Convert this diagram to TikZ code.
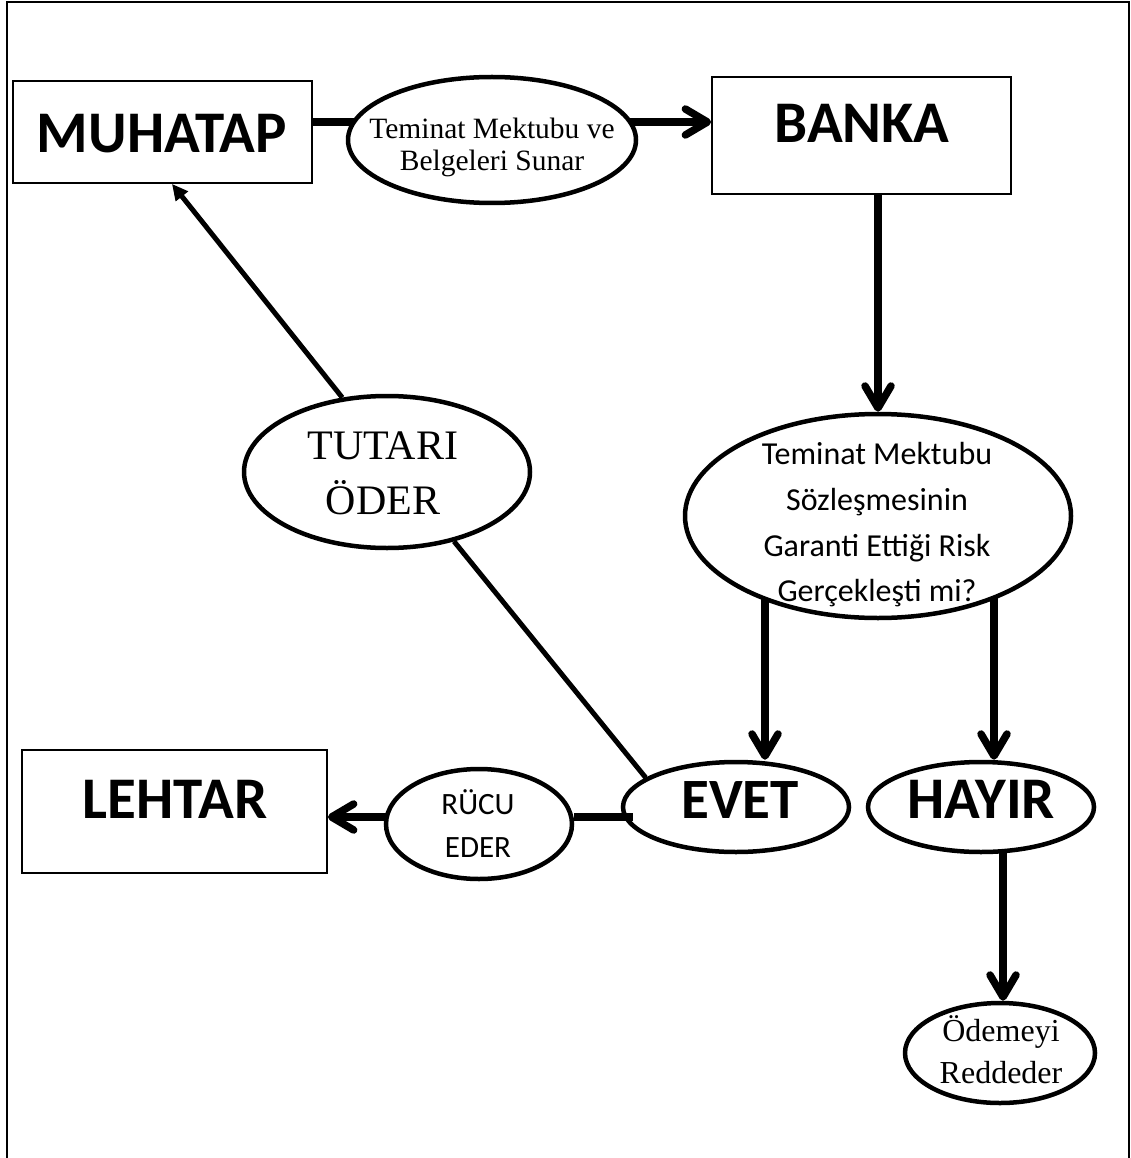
\documentclass[tikz,border=0pt]{standalone}
\usepackage{fontspec}
\usetikzlibrary{shapes.geometric,arrows.meta,backgrounds}
\newfontfamily\carl{Carlito}
\newfontfamily\tms{Liberation Serif}
\tikzset{
  boxnode/.style={draw, rectangle, line width=1.8pt, fill=white, inner sep=0pt},
  ovalnode/.style={draw, ellipse, line width=4.5pt, fill=white, inner sep=0pt},
  heavy/.style={line width=7.5pt},
  barb/.style={-{Straight Barb[length=22pt,width=26pt,round]}},
  slim/.style={line width=5pt},
  title/.style={font=\carl\bfseries\fontsize{59}{70}\selectfont, anchor=base, inner sep=0pt},
  multi/.style={align=center, inner sep=0pt},
}
\begin{document}
\begin{tikzpicture}[x=1pt,y=-1pt]
\useasboundingbox (0,0) rectangle (1131,1158);

% outer frame (open at the bottom)
\draw[line width=2pt] (7,1160) -- (7,2) -- (1129,2) -- (1129,1160);

% boxes
\node[boxnode, minimum width=299pt, minimum height=102pt] (muh) at (162.5,132) {};
\node[title] (muhtxt) at (162,153) {MUHATAP};
\node[boxnode, minimum width=299pt, minimum height=117pt] (banka) at (861.5,135.5) {};
\node[title] (bankatxt) at (862,143) {BANKA};
\node[boxnode, minimum width=305pt, minimum height=123pt] (lehtar) at (174.5,811.5) {};
\node[title] (lehtartxt) at (175,818) {LEHTAR};

% ovals
\node[ovalnode, minimum width=288pt, minimum height=126pt] (sunar) at (492,140) {};
\node[multi, font=\tms\fontsize{29.5}{32}\selectfont] (sunartxt) at (492,147)
  {Teminat Mektubu ve\\Belgeleri Sunar};

\node[ovalnode, minimum width=386pt, minimum height=204pt] (risk) at (878,516) {};
\node[multi, font=\carl\fontsize{32}{45.7}\selectfont] (risktxt) at (877,525)
  {Teminat Mektubu\\Sözleşmesinin\\Garanti Ettiği Risk\\Gerçekleşti mi?};

\node[ovalnode, minimum width=286pt, minimum height=152pt] (tutar) at (387,472) {};
\node[multi, font=\tms\fontsize{42}{55}\selectfont] (tutartxt) at (383,473) {TUTARI\\ÖDER};

\node[ovalnode, minimum width=226pt, minimum height=90pt] (evet) at (736,807) {};
\node[title, font=\carl\bfseries\fontsize{57}{68}\selectfont] (evettxt) at (740,818) {EVET};
\node[ovalnode, minimum width=226pt, minimum height=90pt] (hayir) at (981,807) {};
\node[title] (hayirtxt) at (981,818) {HAYIR};

\node[ovalnode, minimum width=186pt, minimum height=110pt] (rucu) at (479,824) {};
\node[multi, font=\carl\fontsize{31}{43}\selectfont] (rucutxt) at (478,824) {RÜCU\\EDER};

\node[ovalnode, minimum width=190pt, minimum height=100pt] (odeme) at (1000,1053) {};
\node[multi, font=\tms\fontsize{32}{42}\selectfont] (odemetxt) at (1001,1050) {Ödemeyi\\Reddeder};

% guide coordinates for the straight connectors
\coordinate (topline) at (0,122);
\coordinate (lowline) at (0,817);
\coordinate (leftdrop) at (765,0);
\coordinate (rightdrop) at (994,0);
\coordinate (lastdrop) at (1003,0);
\coordinate (evetstub) at ([xshift=12pt]evet.west);

\begin{pgfonlayer}{background}
  \draw[heavy] (muh.east |- topline) -- (sunar.center |- topline);
  \draw[heavy, barb] (sunar.center |- topline) -- (banka.west |- topline);
  \draw[heavy, barb] (risk.north |- banka.south) -- (risk.north);
  \draw[heavy, barb] (leftdrop |- risk.center) -- (leftdrop |- evet.north);
  \draw[heavy, barb] (rightdrop |- risk.center) -- (rightdrop |- hayir.north);
  \draw[heavy, barb] (lastdrop |- hayir.center) -- (lastdrop |- odeme.north);
  \draw[heavy, barb] (rucu.center |- lowline) -- (lehtar.east |- lowline);
  \draw[slim] (evet.162) -- (tutar.-46);
  \draw[slim, -{Triangle[length=16pt,width=15pt]}] (tutar.121) -- ([xshift=9.5pt]muh.south);
\end{pgfonlayer}

% short bar from EVET to RÜCU EDER, crossing into the EVET oval
\draw[heavy] (evetstub |- lowline) -- (rucu.east |- lowline);

\end{tikzpicture}
\end{document}
